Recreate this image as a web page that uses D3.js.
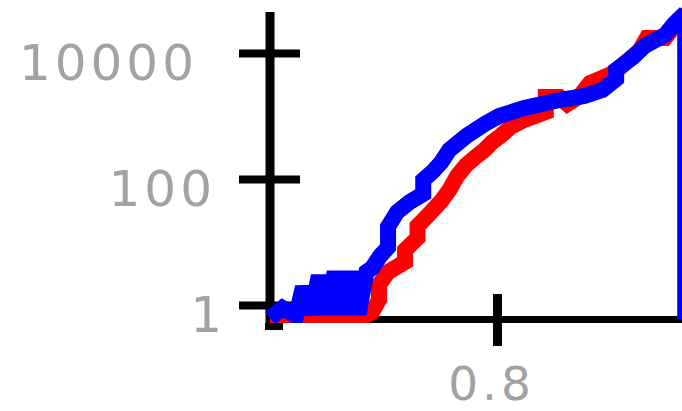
<!DOCTYPE html>
<html>
<head>
<meta charset="utf-8">
<script src="https://cdn.jsdelivr.net/npm/d3@7"></script>
<style>
  html, body { margin: 0; padding: 0; background: #fff; }
  svg { display: block; }
  .tick text { font-family: "DejaVu Sans", sans-serif; font-size: 50px; fill: #a2a2a2; letter-spacing: 4px; }
  .x-axis .tick text { font-size: 47px; }
</style>
</head>
<body>
<svg id="chart" width="682" height="411"></svg>
<script>
// tick values
var xTicks = [0.8]
var yTicks = [1, 100, 10000]

// red series
var redX = [0.600, 0.679, 0.690, 0.696, 0.696, 0.704, 0.719, 0.719, 0.730, 0.730,
            0.742, 0.751, 0.758, 0.765, 0.773, 0.781, 0.789, 0.796, 0.804, 0.812,
            0.824, 0.843, 0.843, 0.855, 0.862, 0.873, 0.882, 0.899, 0.908, 0.926,
            0.932, 0.948, 0.957, 0.966, 0.966]
var redY = [0.60, 0.60, 0.77, 1.20, 2.08, 3.34, 4.82, 7.46, 11.6, 17.9,
            29.9, 44.8, 66.9, 112, 167, 223, 289, 387, 499, 669,
            864, 1157, 2003, 2003, 1550, 2077, 3340, 4477, 5780, 11160,
            17300, 17300, 27800, 41590, 0.60]

// blue series
var blueX = [0.600, 0.611, 0.623, 0.629, 0.636, 0.643, 0.650, 0.657, 0.664, 0.671,
             0.678, 0.685, 0.690, 0.697, 0.704, 0.704, 0.712, 0.723, 0.735, 0.735,
             0.743, 0.751, 0.758, 0.773, 0.789, 0.802, 0.824, 0.855, 0.877, 0.893,
             0.905, 0.905, 0.920, 0.930, 0.948, 0.956, 0.966, 0.966]
var blueY = [0.62, 0.90, 0.67, 1.93, 0.72, 2.90, 0.72, 3.34, 0.72, 3.34,
             0.72, 3.34, 3.87, 6.0, 8.2, 17.5, 29.9, 43.1, 57.8, 96.4,
             129, 186, 289, 482, 746, 1000, 1340, 1795, 2077, 2588,
             3866, 5370, 8650, 12910, 19300, 28840, 43150, 0.60]

var svg = d3.select("#chart")

var x = d3.scaleLinear().domain([0.6, 0.8]).range([270, 497])
var y = d3.scaleLog().domain([1, 10000]).range([305, 53])

// y axis
var yAxisG = svg.append("g")
    .attr("class", "y-axis")
    .attr("transform", "translate(270,0)")
    .call(d3.axisLeft(y).tickValues(yTicks).tickFormat(d3.format("d")))
yAxisG.select(".domain").remove()
yAxisG.append("line")
    .attr("x1", 0).attr("x2", 0).attr("y1", 12).attr("y2", 330)
    .attr("stroke", "#000").attr("stroke-width", 9)
yAxisG.append("line")
    .attr("x1", -5).attr("x2", 13).attr("y1", 326.5).attr("y2", 326.5)
    .attr("stroke", "#000").attr("stroke-width", 7)
yAxisG.selectAll(".tick line")
    .attr("x1", -31).attr("x2", 30)
    .attr("stroke", "#000").attr("stroke-width", 8)
var yLabelX = {1: -44, 100: -54, 10000: -72}
yAxisG.selectAll(".tick text")
    .attr("x", function(d) { return yLabelX[d] })
    .attr("dy", null)
    .attr("y", 26)

// x axis
var xAxisG = svg.append("g")
    .attr("class", "x-axis")
    .attr("transform", "translate(0,319.5)")
    .call(d3.axisBottom(x).tickValues(xTicks).tickFormat(d3.format(".1f")))
xAxisG.select(".domain").remove()
xAxisG.insert("line", ":first-child")
    .attr("x1", 270).attr("x2", 682).attr("y1", 0).attr("y2", 0)
    .attr("stroke", "#000").attr("stroke-width", 7)
xAxisG.selectAll(".tick line")
    .attr("y1", -25.5).attr("y2", 26.5)
    .attr("stroke", "#000").attr("stroke-width", 9)
xAxisG.selectAll(".tick text")
    .attr("x", -6)
    .attr("dy", null)
    .attr("y", 80)

// plot area clip
svg.append("clipPath").attr("id", "plot-clip")
  .append("rect")
    .attr("x", 0).attr("y", 0).attr("width", 682).attr("height", 323)

// series
var line = d3.line()
    .x(function(d) { return x(d[0]) })
    .y(function(d) { return y(d[1]) })

var series = svg.append("g").attr("clip-path", "url(#plot-clip)")

series.append("path")
    .datum(d3.zip(redX, redY))
    .attr("fill", "none")
    .attr("stroke", "#ff0000")
    .attr("stroke-width", 16)
    .attr("stroke-miterlimit", 2)
    .attr("d", line)

series.append("path")
    .datum(d3.zip(blueX, blueY))
    .attr("fill", "none")
    .attr("stroke", "#0000ff")
    .attr("stroke-width", 16)
    .attr("stroke-miterlimit", 2)
    .attr("d", line)
</script>
</body>
</html>
